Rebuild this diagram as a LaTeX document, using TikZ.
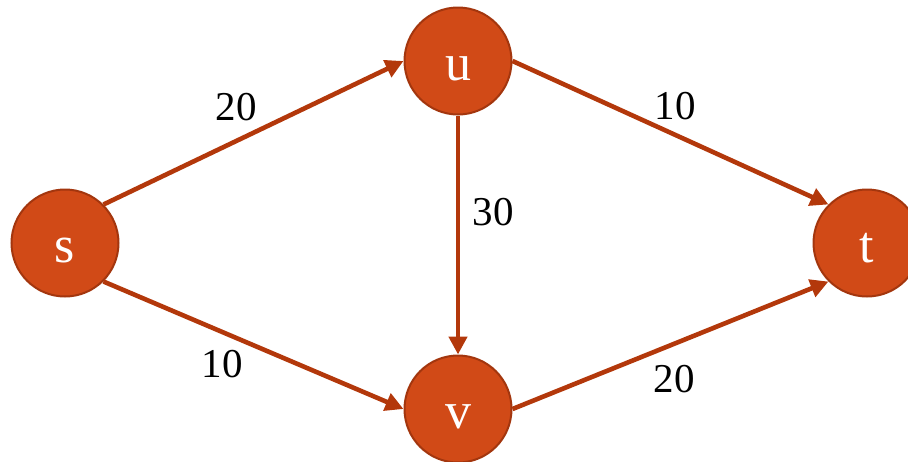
\documentclass[tikz,border=0pt]{standalone}
\usepackage{fontspec}
\setmainfont{Liberation Serif}
\usetikzlibrary{arrows.meta}
\definecolor{nodefill}{HTML}{D14A17}
\definecolor{nodeline}{HTML}{A3360E}
\definecolor{edgecol}{HTML}{B3380B}

\begin{document}
\begin{tikzpicture}[x=0.5pt,y=-0.5pt,
  vertex/.style={circle,fill=nodefill,draw=nodeline,line width=1pt,minimum size=53.5pt,inner sep=0pt,
    text height=19pt,text depth=0pt,text=white,font=\fontsize{26}{30}\selectfont},
  flow/.style={edgecol,line width=2.3pt,-{Triangle[length=9pt,width=9pt]}},
  caplabel/.style={font=\fontsize{20.5}{24}\selectfont}]
  \useasboundingbox (0,0) rectangle (908,461);
  \clip (0,0) rectangle (908,461);
  % vertices
  \node[vertex] (s) at (65,243) {s};
  \node[vertex] (u) at (458,61) {u};
  \node[vertex] (v) at (458,409) {v};
  \node[vertex] (t) at (867,243) {t};
  % edges
  \draw[flow] (s.north east) -- (u.west);
  \draw[flow] (s.south east) -- (v.west);
  \draw[flow] (u.south) -- (v.north);
  \draw[flow] (u.east) -- (t.north west);
  \draw[flow] (v.east) -- (t.south west);
  % capacities
  \node[caplabel] (csu) at (236,107) {20};
  \node[caplabel] (csv) at (222,364) {10};
  \node[caplabel] (cuv) at (493,212) {30};
  \node[caplabel] (cut) at (675,106) {10};
  \node[caplabel] (cvt) at (674,379) {20};
\end{tikzpicture}
\end{document}
